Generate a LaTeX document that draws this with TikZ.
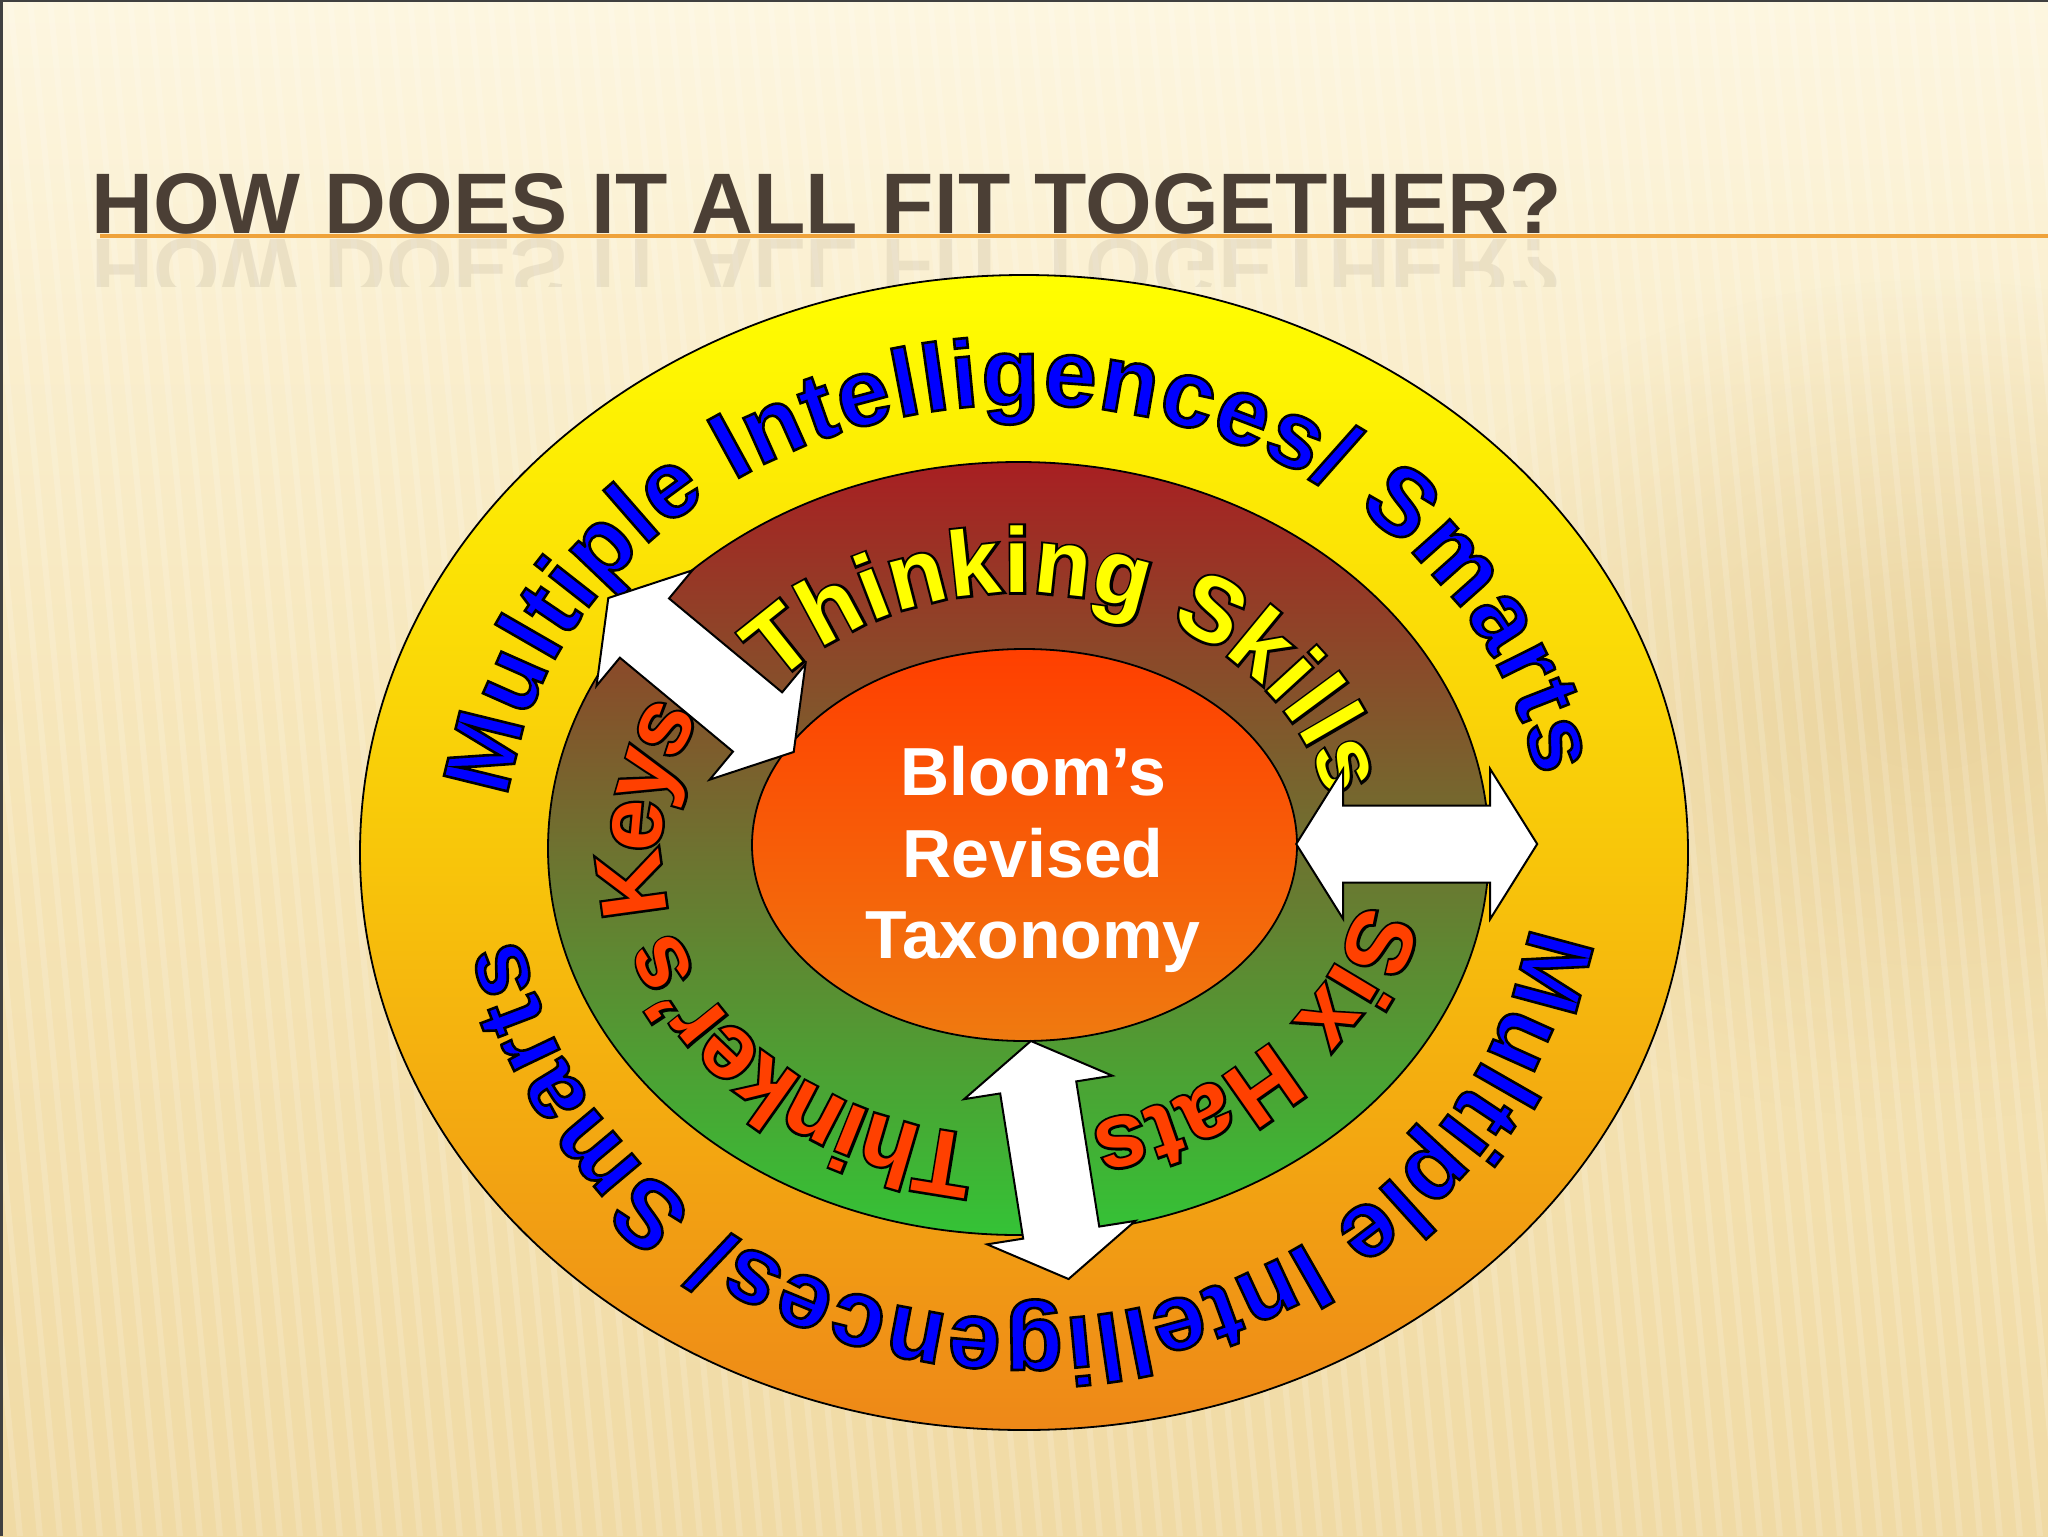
\documentclass[tikz,border=0pt]{standalone}
\usepackage{fontspec}
\usepackage{graphicx}
\setmainfont{Liberation Sans Bold}[BoldFont={Liberation Sans Bold}]
\setsansfont{Liberation Sans Bold}[BoldFont={Liberation Sans Bold}]
\usetikzlibrary{decorations.text,shapes.geometric,fadings}

\definecolor{bgtop}{HTML}{FDF6E0}
\definecolor{bgmid}{HTML}{F6E5B8}
\definecolor{bgbot}{HTML}{F0DAA4}
\definecolor{blobc}{HTML}{E2C78A}
\definecolor{titlec}{HTML}{4B3F35}
\definecolor{lineor}{HTML}{EFA23A}
\definecolor{outtop}{HTML}{FFFF00}
\definecolor{outmid}{HTML}{F8C60A}
\definecolor{outbot}{HTML}{EE8818}
\definecolor{midtop}{HTML}{A81F22}
\definecolor{midmid}{HTML}{6E7230}
\definecolor{midbot}{HTML}{34C336}
\definecolor{inntop}{HTML}{FF3F00}
\definecolor{innbot}{HTML}{EF7A10}

\tikzfading[name=blobfade, inner color=transparent!0, outer color=transparent!100]

% glyph painting: fill colour #1 with a black stroke of width #2
\newcommand\outl[2]{\special{pdf:literal direct #1 rg 0 0 0 RG 2 Tr #2 w}}
% glyph painting: fill only
\newcommand\fillonly[1]{\special{pdf:literal direct #1 rg 0 Tr}}
\newcommand\bigarcfont{\fontsize{47.5}{50}\selectfont}
\newcommand\midarcfont{\fontsize{46}{48}\selectfont}

\tikzset{
  ringline/.style={draw=black, line width=0.9pt, ellipse, inner sep=0pt},
  arrowbox/.style={fill=white, draw=black, line width=1pt, line join=miter},
  bloomtxt/.style={anchor=base, inner sep=0pt, text=white, font=\fontsize{34}{36}\selectfont},
  titletxt/.style={anchor=base west, inner sep=0pt, text=titlec, font=\fontsize{42}{42}\selectfont},
  midtext/.style={decorate, decoration={text along path, text align={fit to path}, raise=-14pt, text={#1}}},
  dblarr/.pic={\path[arrowbox] (-120.5,0) -- (-73.5,75) -- (-73.5,38.5) -- (73.5,38.5) -- (73.5,75)
     -- (120.5,0) -- (73.5,-75) -- (73.5,-38.5) -- (-73.5,-38.5) -- (-73.5,-75) -- cycle;}
}

\begin{document}
\begin{tikzpicture}[x=0.5pt, y=0.5pt]
\useasboundingbox (0,0) rectangle (2048,-1536);
% background
\fill[top color=bgtop, bottom color=bgbot, middle color=bgmid] (0,0) rectangle (2048,-1536);
\fill[blobc, opacity=0.6, path fading=blobfade] (1930,-700) ellipse (560 and 420);
\foreach \k in {0,...,115} {
  \draw[white, opacity=0.16, line width=3pt] (\k*20-150, 0) -- (\k*20, -1536);
}
\draw[line width=1.5pt, black!75] (0,-1) -- (2048,-1);
\draw[line width=1.5pt, black!75] (1,0) -- (1,-1536);

% title, rule and reflection
\draw[lineor, line width=2pt] (100,-236) -- (2048,-236);
\node[titletxt] (title) at (91,-233) {\resizebox{735pt}{30pt}{HOW DOES IT ALL FIT TOGETHER?}};
\begin{scope}
  \clip (0,-238) rectangle (2048,-286);
  \node[titletxt, text opacity=0.09] (titleref) at (91,-239) {\scalebox{1}[-1]{\resizebox{735pt}{30pt}{HOW DOES IT ALL FIT TOGETHER?}}};
\end{scope}

% rings
\node[ringline, minimum width=664pt, minimum height=577.5pt,
      top color=outtop, bottom color=outbot, middle color=outmid] (outer) at (1024,-852.5) {};
\node[ringline, minimum width=470.5pt, minimum height=386.5pt,
      top color=midtop, bottom color=midbot, middle color=midmid] (middle) at (1018.5,-848.5) {};
\node[ringline, minimum width=272.5pt, minimum height=196pt,
      top color=inntop, bottom color=innbot] (inner) at (1024.5,-845) {};

\node[bloomtxt] (bloom1) at (1033,-795) {Bloom’s};
\node[bloomtxt] (bloom2) at (1033,-877) {Revised};
\node[bloomtxt] (bloom3) at (1033,-958) {Taxonomy};

% curved texts, outer ring
\begin{scope}
\path[decorate, decoration={text along path, text align={fit to path},
   text={|\bigarcfont\outl{0 0 1}{1.3}|Multiple Intelligences/ Smarts}}]
  (outer.center) ++(173:520 and 448) arc[start angle=173, end angle=9.7, x radius=520, y radius=448];
\end{scope}
\begin{scope}
\path[decorate, decoration={text along path, text align={fit to path},
   text={|\bigarcfont\outl{0 0 1}{1.3}|Multiple Intelligences/ Smarts}}]
  (outer.center) ++(-9:512 and 467) arc[start angle=-9, end angle=-169.4, x radius=512, y radius=467];
\end{scope}

% curved texts, middle ring: black outline underneath, colour fill on top
\begin{scope}
\path[midtext={|\midarcfont\outl{0 0 0}{2.4}|Thinking Skills}]
  (middle.center) ++(139:343.5 and 284) arc[start angle=139, end angle=12, x radius=343.5, y radius=284];
\path[midtext={|\midarcfont\fillonly{1 1 0}|Thinking Skills}]
  (middle.center) ++(139:343.5 and 284) arc[start angle=139, end angle=12, x radius=343.5, y radius=284];
\end{scope}
\begin{scope}
\path[midtext={|\midarcfont\outl{0 0 0}{2.4}|Six Hats}]
  (middle.center) ++(-12:376 and 309) arc[start angle=-12, end angle=-78, x radius=376, y radius=309];
\path[midtext={|\midarcfont\fillonly{1 0.25 0}|Six Hats}]
  (middle.center) ++(-12:376 and 309) arc[start angle=-12, end angle=-78, x radius=376, y radius=309];
\end{scope}
\begin{scope}
\path[midtext={|\midarcfont\outl{0 0 0}{2.4}|Thinker’s Keys}]
  (middle.center) ++(-97:386 and 317) arc[start angle=-97, end angle=-207, x radius=386, y radius=317];
\path[midtext={|\midarcfont\fillonly{1 0.25 0}|Thinker’s Keys}]
  (middle.center) ++(-97:386 and 317) arc[start angle=-97, end angle=-207, x radius=386, y radius=317];
\end{scope}

% double arrows
\pic[rotate=-39.7] (arrowA) at (701,-675) {dblarr};
\pic (arrowB) at (1416.7,-844) {dblarr};
\pic[rotate=-81] (arrowC) at (1049.7,-1160) {dblarr};
\end{tikzpicture}
\end{document}
